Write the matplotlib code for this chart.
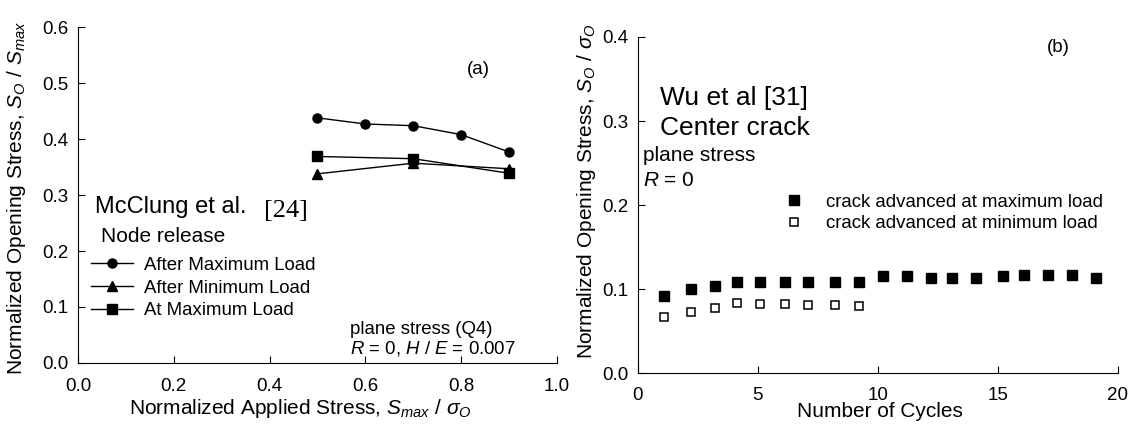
import numpy as np
import matplotlib
matplotlib.use('Agg')
import matplotlib.pyplot as plt

plt.rcParams['font.family'] = ['Liberation Sans', 'DejaVu Sans']
plt.rcParams['mathtext.fontset'] = 'custom'
plt.rcParams['mathtext.rm'] = 'Liberation Sans'
plt.rcParams['mathtext.it'] = 'Liberation Sans:italic'

# (a) McClung et al. - node release
stress_circ = [0.5, 0.6, 0.7, 0.8, 0.9]
after_max = [0.438, 0.427, 0.424, 0.408, 0.377]
stress_tri = [0.5, 0.7, 0.9]
after_min = [0.338, 0.357, 0.347]
stress_sq = [0.5, 0.7, 0.9]
at_max = [0.369, 0.365, 0.339]

# (b) Wu et al - center crack
cycles = [1.1, 2.2, 3.2, 4.15, 5.1, 6.15, 7.1, 8.2, 9.2, 10.2,
          11.2, 12.2, 13.1, 14.1, 15.2, 16.1, 17.1, 18.1, 19.1]
adv_max = [0.092, 0.100, 0.104, 0.109, 0.108, 0.109, 0.109, 0.109, 0.109, 0.115,
           0.115, 0.113, 0.113, 0.113, 0.116, 0.117, 0.117, 0.117, 0.113]
cycles_min = cycles[:9]
adv_min = [0.067, 0.073, 0.077, 0.083, 0.082, 0.082, 0.081, 0.081, 0.080]

fig = plt.figure(figsize=(11.39, 4.25), dpi=100)

ax1 = fig.add_axes([0.0685, 0.146, 0.4205, 0.790])
ax2 = fig.add_axes([0.560, 0.122, 0.4214, 0.791])

for ax in (ax1, ax2):
    ax.spines['top'].set_visible(False)
    ax.spines['right'].set_visible(False)
    ax.tick_params(direction='in', length=5, labelsize=13.5)
    ax.tick_params(axis='y', pad=7)
ax1.tick_params(axis='x', pad=11)
ax2.tick_params(axis='x', pad=10)

# ---- panel (a)
ax1.plot(stress_circ, after_max, '-o', color='black', ms=6.5, lw=1,
         label='After Maximum Load')
ax1.plot(stress_tri, after_min, '-^', color='black', ms=6.5, lw=1,
         label='After Minimum Load')
ax1.plot(stress_sq, at_max, '-s', color='black', ms=6.5, lw=1,
         label='At Maximum Load')
ax1.set_xlim(0, 1.0)
ax1.set_ylim(0, 0.6)
ax1.set_xticks(np.arange(0, 1.01, 0.2))
ax1.set_xticklabels(['0.0', '0.2', '0.4', '0.6', '0.8', '1.0'])
ax1.set_yticks(np.arange(0, 0.61, 0.1))
ax1.set_yticklabels(['0.0', '0.1', '0.2', '0.3', '0.4', '0.5', '0.6'])
ax1.set_xlabel(r'Normalized Applied Stress, $S_{max}$ / $\sigma_O$', fontsize=15)
ax1.set_ylabel(r'Normalized Opening Stress, $S_O$ / $S_{max}$', fontsize=15)
ax1.xaxis.set_label_coords(0.465, -0.102)
ax1.yaxis.set_label_coords(-0.104, 0.49)

ax1.legend(loc='center left', bbox_to_anchor=(0.027, 0.223), frameon=False,
           fontsize=13.4, handlelength=2.26, handletextpad=0.6, labelspacing=0.3,
           borderaxespad=0, borderpad=0)
ax1.text(0.035, 0.279, 'McClung et al.', fontsize=17, va='center')
ax1.text(0.388, 0.272, '[24]', fontsize=19, va='center', family='Liberation Serif')
ax1.text(0.048, 0.226, 'Node release', fontsize=15, va='center')
ax1.text(0.835, 0.525, '(a)', fontsize=13.5, va='center', ha='center')
ax1.text(0.568, 0.059, 'plane stress (Q4)', fontsize=13.4, va='center')
ax1.text(0.568, 0.025, r'$R$ = 0, $H$ / $E$ = 0.007', fontsize=13.4, va='center')

# ---- panel (b)
ax2.plot(cycles, adv_max, 's', color='black', ms=6.5, ls='none',
         label='crack advanced at maximum load')
ax2.plot(cycles_min, adv_min, 's', mfc='white', mec='black', mew=1.1, ms=5.5,
         ls='none', label='crack advanced at minimum load')
ax2.set_xlim(0, 20)
ax2.set_ylim(0, 0.4)
ax2.set_xticks([0, 5, 10, 15, 20])
ax2.set_yticks(np.arange(0, 0.41, 0.1))
ax2.set_yticklabels(['0.0', '0.1', '0.2', '0.3', '0.4'])
ax2.set_xlabel('Number of Cycles', fontsize=15)
ax2.set_ylabel(r'Normalized Opening Stress, $S_O$ / $\sigma_O$', fontsize=15)
ax2.xaxis.set_label_coords(0.504, -0.086)
ax2.yaxis.set_label_coords(-0.083, 0.54)

ax2.legend(loc='center left', bbox_to_anchor=(0.306, 0.476), frameon=False,
           fontsize=13.4, handlelength=1.0, handletextpad=1.2, labelspacing=0.25,
           borderaxespad=0, borderpad=0)
ax2.text(0.92, 0.3276, 'Wu et al [31]', fontsize=19, va='center')
ax2.text(0.92, 0.292, 'Center crack', fontsize=19, va='center')
ax2.text(0.2, 0.259, 'plane stress', fontsize=15, va='center')
ax2.text(0.2, 0.229, r'$R$ = 0', fontsize=15, va='center')
ax2.text(17.5, 0.387, '(b)', fontsize=13.5, va='center', ha='center')

fig.savefig('out.png', dpi=100)
